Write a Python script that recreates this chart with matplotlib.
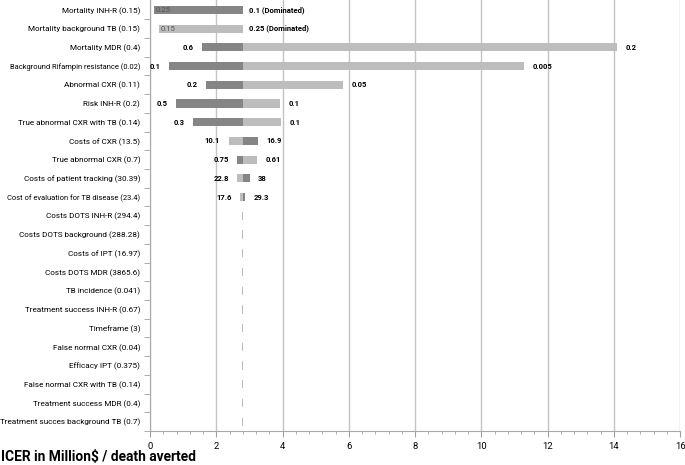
import matplotlib
matplotlib.use("Agg")
import matplotlib.pyplot as plt
from matplotlib.ticker import MultipleLocator
import numpy as np

plt.rcParams['font.family'] = ['Roboto', 'DejaVu Sans']

base = 2.82  # base-case ICER

params = ["Mortality INH-R (0.15)", "Mortality background TB (0.15)", "Mortality MDR (0.4)",
          "Background Rifampin resistance (0.02)", "Abnormal CXR (0.11)", "Risk INH-R (0.2)",
          "True abnormal CXR with TB (0.14)", "Costs of CXR (13.5)", "True abnormal CXR (0.7)",
          "Costs of patient tracking (30.39)", "Cost of evaluation for TB disease (23.4)",
          "Costs DOTS INH-R (294.4)", "Costs DOTS background (288.28)", "Costs of IPT (16.97)",
          "Costs DOTS MDR (3865.6)", "TB incidence (0.041)", "Treatment success INH-R (0.67)",
          "Timeframe (3)", "False normal CXR (0.04)", "Efficacy IPT (0.375)",
          "False normal CXR with TB (0.14)", "Treatment success MDR (0.4)",
          "Treatment succes background TB (0.7)"]

# ICER at low / high parameter value (None = dominated)
icer_low = [None, 0.27, 14.1, 11.28, 5.82, 3.93, 3.95, 2.37, 3.23, 2.63, 2.73,
            2.77, 2.77, 2.77, 2.77, 2.77, 2.77, 2.77, 2.77, 2.77, 2.77, 2.77, 2.77]
icer_high = [0.13, None, 1.56, 0.56, 1.70, 0.78, 1.31, 3.27, 2.63, 3.01, 2.88,
             2.82, 2.82, 2.82, 2.82, 2.82, 2.82, 2.82, 2.82, 2.82, 2.82, 2.82, 2.82]
low_text = ["0.1 (Dominated)", "0.15", "0.2", "0.005", "0.05", "0.1", "0.1", "10.1", "0.61", "22.8", "17.6"]
high_text = ["0.25", "0.25 (Dominated)", "0.6", "0.1", "0.2", "0.5", "0.3", "16.9", "0.75", "38", "29.3"]

light = "#bdbdbd"
dark = "#858585"

fig = plt.figure(figsize=(6.85, 4.65), dpi=100)
ax = fig.add_axes([0.219, 0.073, 0.774, 0.927])

n = len(params)
y = np.arange(n)
h = 0.44
for i in range(n):
    for val, col in ((icer_low[i], light), (icer_high[i], dark)):
        if val is None:
            continue
        ax.barh(y[i], val - base, left=base, height=h, color=col, lw=0, zorder=3)

# value labels
fs = 5.5
for i in range(len(low_text)):
    pairs = [(icer_low[i], low_text[i]), (icer_high[i], high_text[i])]
    dominated = any(v is None for v, _ in pairs)
    for val, txt in pairs:
        if val is None:
            ax.annotate(txt, (base, y[i]), xytext=(4, 0), textcoords="offset points",
                        ha="left", va="center", fontsize=fs, fontweight="bold", zorder=4)
        elif dominated:
            ax.annotate(txt, (val, y[i]), xytext=(1, 0), textcoords="offset points",
                        ha="left", va="center", fontsize=fs, color="#555555", zorder=4)
        elif val < base:
            ax.annotate(txt, (val, y[i]), xytext=(-6, 0), textcoords="offset points",
                        ha="right", va="center", fontsize=fs, fontweight="bold", zorder=4)
        else:
            ax.annotate(txt, (val, y[i]), xytext=(6, 0), textcoords="offset points",
                        ha="left", va="center", fontsize=fs, fontweight="bold", zorder=4)

ax.set_xlim(0, 16)
ax.set_ylim(n - 0.57, -0.53)
ax.xaxis.set_major_locator(MultipleLocator(2))
ax.xaxis.set_minor_locator(MultipleLocator(0.4))
ax.grid(axis="x", which="major", color="#c4c4c4", lw=1.0, zorder=0)
ax.set_yticks(y)
ax.set_yticklabels(params, fontsize=5.9)
for t in ax.get_yticklabels():
    if len(t.get_text()) > 36:
        t.set_fontsize(5.4)
ax.set_yticks(np.arange(n) + 0.5, minor=True)
ax.tick_params(axis="y", which="major", length=0, pad=7)
ax.tick_params(axis="y", which="minor", length=4, color="#a0a0a0", direction="out")
ax.tick_params(axis="x", which="major", length=4, color="#a0a0a0", labelsize=6.8, pad=4)
ax.tick_params(axis="x", which="minor", length=2.5, color="#a0a0a0")
for s in ("top", "right"):
    ax.spines[s].set_visible(False)
ax.spines["left"].set_color("#a8a8a8")
ax.spines["bottom"].set_color("#a8a8a8")

fig.text(0.002, 0.017, "ICER in Million$ / death averted", fontsize=9.9, fontweight="bold",
         ha="left", va="center")

fig.savefig("out.png", dpi=100)
